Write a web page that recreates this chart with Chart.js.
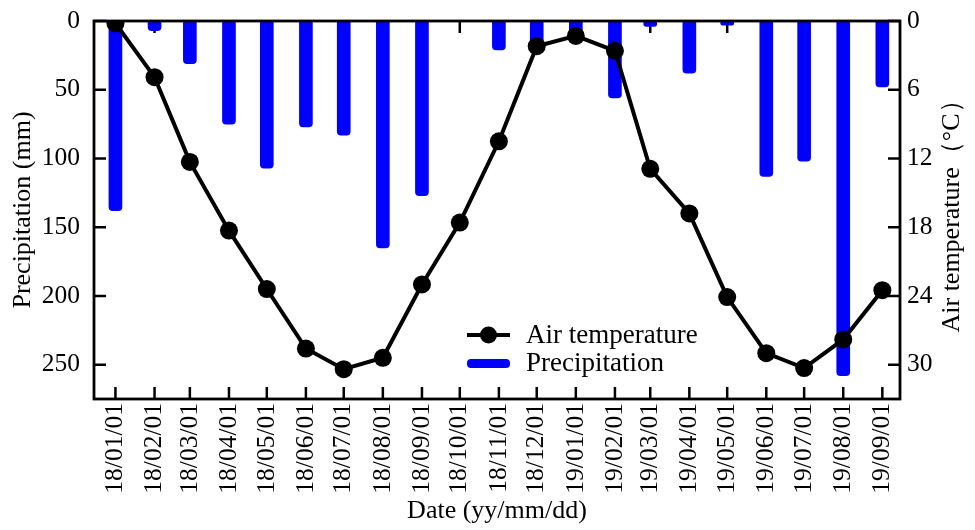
<!DOCTYPE html>
<html><head><meta charset="utf-8">
<script src="https://cdn.jsdelivr.net/npm/chart.js@4/dist/chart.umd.min.js"></script>
<style>html,body{margin:0;padding:0;background:#fff}#wrap{width:975px;height:530px;position:relative}</style>
</head><body><div id="wrap"><canvas id="c" width="975" height="530"></canvas></div>
<script>
const dates = ['18/01/01','18/02/01','18/03/01','18/04/01','18/05/01','18/06/01','18/07/01','18/08/01','18/09/01','18/10/01','18/11/01','18/12/01','19/01/01','19/02/01','19/03/01','19/04/01','19/05/01','19/06/01','19/07/01','19/08/01','19/09/01'];
const precipitation = [138,7,31,75,107,77,83,165,127,0,21,16,9,56,4,38,3,113,102,258,48];
const airTemperature = [0.2,4.9,12.3,18.3,23.4,28.6,30.4,29.4,23.0,17.6,10.5,2.2,1.3,2.6,12.9,16.8,24.1,29.0,30.3,27.8,23.5];
const precipTicks = [0,50,100,150,200,250];
const tempTicks = [0,6,12,18,24,30];

const FONT = "'Liberation Serif','Times New Roman',serif";
function dayOf(s){const p=s.split('/').map(Number);return (Date.UTC(2000+p[0],p[1]-1,p[2])-Date.UTC(2018,0,1))/86400000;}
const days = dates.map(dayOf);
const labelOf = {}; days.forEach((d,i)=>labelOf[d]=dates[i]);

const framePlugin = {
  id:'frame',
  beforeDatasetsDraw(chart){
    const {ctx, chartArea:a, scales} = chart;
    const L=12;
    ctx.save(); ctx.strokeStyle='#000'; ctx.lineWidth=2.5;
    ctx.beginPath();
    scales.x.ticks.forEach(t=>{const x=scales.x.getPixelForValue(t.value);
      ctx.moveTo(x,a.bottom);ctx.lineTo(x,a.bottom-L);
      ctx.moveTo(x,a.top);ctx.lineTo(x,a.top+L);});
    scales.y.ticks.forEach(t=>{const y=scales.y.getPixelForValue(t.value);ctx.moveTo(a.left,y);ctx.lineTo(a.left+L,y);});
    scales.yT.ticks.forEach(t=>{const y=scales.yT.getPixelForValue(t.value);ctx.moveTo(a.right,y);ctx.lineTo(a.right-L,y);});
    ctx.stroke(); ctx.restore();
  },
  afterDraw(chart){
    const {ctx, chartArea:a} = chart;
    ctx.save(); ctx.strokeStyle='#000'; ctx.lineWidth=2.8;
    ctx.strokeRect(a.left,a.top,a.right-a.left,a.bottom-a.top);
    // right axis title (reads bottom-to-top)
    ctx.save();
    ctx.translate(952,(a.top+a.bottom)/2); ctx.rotate(-Math.PI/2);
    ctx.fillStyle='#000'; ctx.font="26px "+FONT; ctx.textAlign='center'; ctx.textBaseline='middle';
    ctx.fillText('Air temperature（°C）',0,0);
    ctx.restore();
    // legend
    ctx.lineWidth=4; ctx.beginPath(); ctx.moveTo(467,335); ctx.lineTo(510,335); ctx.stroke();
    ctx.fillStyle='#000'; ctx.beginPath(); ctx.arc(488.5,335,8.5,0,Math.PI*2); ctx.fill();
    ctx.fillStyle='#0000ff'; ctx.beginPath(); ctx.roundRect(467,359,43,9,4); ctx.fill();
    ctx.fillStyle='#000'; ctx.font="27px "+FONT; ctx.textBaseline='middle'; ctx.textAlign='left';
    ctx.fillText('Air temperature',526,336);
    ctx.fillText('Precipitation',526,364);
    ctx.restore();
  }
};

new Chart(document.getElementById('c'),{
  type:'bar',
  data:{datasets:[
    {type:'line',label:'Air temperature',data:days.map((d,i)=>({x:d,y:airTemperature[i]})),yAxisID:'yT',xAxisID:'x',
     borderColor:'#000',borderWidth:4,pointRadius:9,pointBackgroundColor:'#000',pointBorderWidth:0,tension:0,order:0},
    {type:'bar',label:'Precipitation',data:days.map((d,i)=>({x:d,y:precipitation[i]})),yAxisID:'y',xAxisID:'x',
     backgroundColor:'#0000ff',barThickness:13,borderRadius:4,borderSkipped:'start',order:1}
  ]},
  options:{
    responsive:false,animation:false,devicePixelRatio:1,
    layout:{padding:{top:21,left:0,right:0,bottom:0}},
    plugins:{legend:{display:false},tooltip:{enabled:false}},
    scales:{
      x:{type:'linear',position:'bottom',min:-17,max:622,offset:false,
        afterBuildTicks:s=>{s.ticks=days.map(v=>({value:v}));},
        afterFit:s=>{s.height=131;s.paddingLeft=0;s.paddingRight=0;},
        grid:{display:false,drawTicks:false,offset:false},border:{display:false},
        ticks:{autoSkip:false,minRotation:90,maxRotation:90,padding:4,color:'#000',font:{family:FONT,size:25.5},callback:v=>labelOf[v]},
        title:{display:true,text:'Date (yy/mm/dd)',color:'#000',font:{family:FONT,size:26},padding:{top:0,bottom:3}}},
      y:{type:'linear',position:'left',reverse:true,min:0,max:275,
        afterBuildTicks:s=>{s.ticks=precipTicks.map(v=>({value:v}));},
        afterFit:s=>{s.width=94;s.paddingTop=0;s.paddingBottom=0;},
        grid:{display:false,drawTicks:false},border:{display:false},
        ticks:{padding:14,color:'#000',font:{family:FONT,size:25.5}},
        title:{display:true,text:'Precipitation (mm)',color:'#000',font:{family:FONT,size:26},padding:{top:8,bottom:0}}},
      yT:{type:'linear',position:'right',reverse:true,min:0,max:33,
        afterBuildTicks:s=>{s.ticks=tempTicks.map(v=>({value:v}));},
        afterFit:s=>{s.width=75;s.paddingTop=0;s.paddingBottom=0;},
        grid:{display:false,drawTicks:false},border:{display:false},
        ticks:{padding:7,color:'#000',font:{family:FONT,size:25.5}},
        title:{display:false}}
    }
  },
  plugins:[framePlugin]
});
</script></body></html>
